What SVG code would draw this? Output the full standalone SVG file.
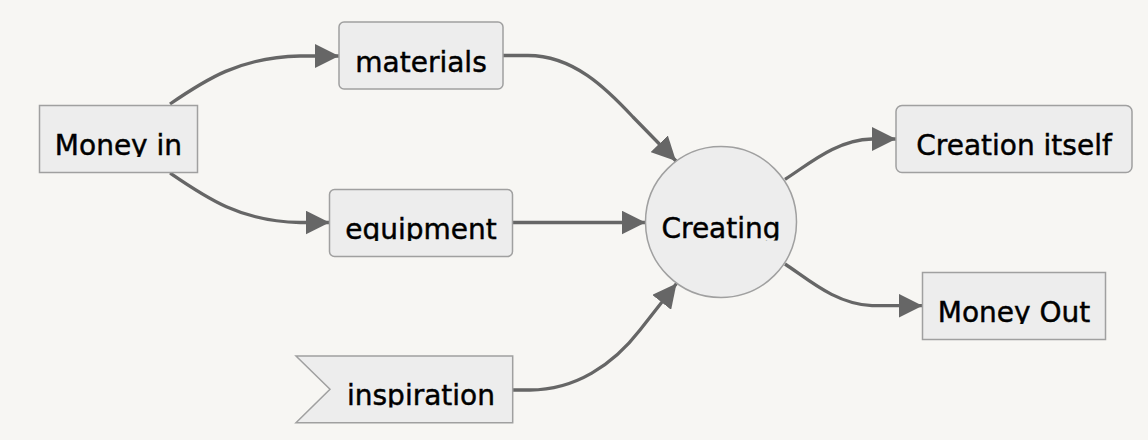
<svg xmlns="http://www.w3.org/2000/svg" width="1148" height="440" viewBox="0 0 1148 440">
  <style>
    .node-shape { fill: #ededed; stroke: #a0a0a0; stroke-width: 1.5; }
    .label { font-family: "DejaVu Sans", "Liberation Sans", sans-serif; font-size: 28px; fill: #000000; stroke: #000000; stroke-width: 0.45; text-anchor: middle; }
    .edge { fill: none; stroke: #666666; stroke-width: 3.3; }
  </style>
  <defs>
    <marker id="arrow" viewBox="0 0 24 24" refX="24" refY="12" markerWidth="24" markerHeight="24" markerUnits="userSpaceOnUse" orient="auto">
      <path d="M0,0 L24,12 L0,24 z" fill="#666666"/>
    </marker>
    <clipPath id="clip-money-in"><rect x="40" y="106" width="157" height="51"/></clipPath>
    <clipPath id="clip-materials"><rect x="340" y="23" width="162" height="51"/></clipPath>
    <clipPath id="clip-equipment"><rect x="330" y="190" width="182" height="51"/></clipPath>
    <clipPath id="clip-inspiration"><rect x="300" y="357" width="212" height="50.5"/></clipPath>
    <clipPath id="clip-creating"><rect x="646" y="147" width="150" height="93.5"/></clipPath>
    <clipPath id="clip-creation-itself"><rect x="897" y="106" width="234" height="51"/></clipPath>
    <clipPath id="clip-money-out"><rect x="923" y="273" width="182" height="51"/></clipPath>
  </defs>
  <rect x="0" y="0" width="1148" height="440" fill="#f7f6f3"/>

  <g id="edges">
    <path class="edge" d="M170,104 C205,80 240,57 300,56 L339,56" marker-end="url(#arrow)"/>
    <path class="edge" d="M170,173 C205,197 240,221.5 300,222.5 L329.5,222.5" marker-end="url(#arrow)"/>
    <path class="edge" d="M503,55.5 L528,55.5 C573,55.5 606,88 633,117 L676,161" marker-end="url(#arrow)"/>
    <path class="edge" d="M512.7,222.5 L645.5,222.5" marker-end="url(#arrow)"/>
    <path class="edge" d="M512.7,390 L530,390 C575,390 613,365 640,330 L676.5,283.5" marker-end="url(#arrow)"/>
    <path class="edge" d="M785,179.3 C808,165 835,140 872,139 L896,139" marker-end="url(#arrow)"/>
    <path class="edge" d="M785,264 C808,279 835,304 872,305.7 L922.5,305.7" marker-end="url(#arrow)"/>
  </g>

  <g id="node-money-in">
    <rect class="node-shape" x="39.5" y="105.5" width="158" height="67"/>
    <text class="label" x="118.5" y="155" clip-path="url(#clip-money-in)">Money in</text>
  </g>

  <g id="node-materials">
    <rect class="node-shape" x="339" y="22" width="164" height="67" rx="5" ry="5"/>
    <text class="label" x="421" y="72" clip-path="url(#clip-materials)">materials</text>
  </g>

  <g id="node-equipment">
    <rect class="node-shape" x="329.5" y="189.5" width="183" height="67" rx="5" ry="5"/>
    <text class="label" x="421" y="238.5" clip-path="url(#clip-equipment)">equipment</text>
  </g>

  <g id="node-inspiration">
    <polygon class="node-shape" points="296,356 512.7,356 512.7,422.7 296,422.7 330,389.3"/>
    <text class="label" x="421" y="405" clip-path="url(#clip-inspiration)">inspiration</text>
  </g>

  <g id="node-creating">
    <circle class="node-shape" cx="721" cy="222" r="75.5"/>
    <text class="label" x="721" y="238.3" clip-path="url(#clip-creating)">Creating</text>
  </g>

  <g id="node-creation-itself">
    <rect class="node-shape" x="896" y="105.5" width="236" height="67" rx="6" ry="6"/>
    <text class="label" x="1014" y="155" clip-path="url(#clip-creation-itself)">Creation itself</text>
  </g>

  <g id="node-money-out">
    <rect class="node-shape" x="922.5" y="272.5" width="183" height="67"/>
    <text class="label" x="1014" y="322.3" clip-path="url(#clip-money-out)">Money Out</text>
  </g>
</svg>
